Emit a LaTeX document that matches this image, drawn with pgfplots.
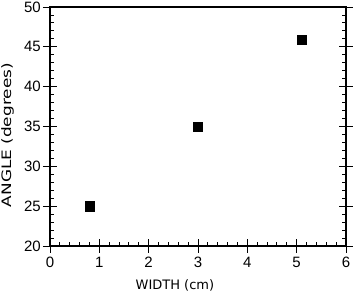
\documentclass[border=0pt]{standalone}
\usepackage{fontspec}
\setmainfont{Liberation Sans}
\newfontfamily\labfont{DejaVu Sans}
\usepackage{graphicx}
\usepackage{pgfplots}
\pgfplotsset{compat=1.18}
\begin{document}
\begin{tikzpicture}
\begin{axis}[name=ax, scale only axis, width=296pt, height=239pt,
  xmin=0, xmax=6, ymin=20, ymax=50,
  xtick={0,1,2,3,4,5,6}, ytick={20,25,30,35,40,45,50},
  minor x tick num=4, minor y tick num=4,
  xtick pos=bottom, ytick pos=both,
  tick align=inside, major tick length=7pt, minor tick length=4pt,
  extra x ticks={0,1,2,3,4,5,6}, extra y ticks={20,25,30,35,40,45,50},
  extra x tick labels={}, extra y tick labels={},
  extra tick style={tick align=center, major tick length=14pt},
  axis line style={line width=1.6pt},
  every tick/.style={black, line width=0.9pt},
  /pgf/number format/assume math mode=true,
  ticklabel style={font=\fontsize{15}{17}\selectfont},
  xticklabel style={yshift=-7.3pt},
  yticklabel style={xshift=-5.7pt},
  label style={font=\labfont\fontsize{13}{15}\selectfont},
  xlabel={WIDTH (cm)}, ylabel={\scalebox{1.3}[1]{ANGLE (degrees)}},
  xlabel style={at={(axis description cs:0.422,-0.184)}, anchor=base},
  ylabel style={at={(axis description cs:-0.1436,0.464)}, anchor=center},
]
\addplot[only marks, mark=square*, mark size=4.6pt, black] coordinates {
(0.81,25) (3.0,35) (5.1,45.9)
};
\end{axis}
\pgfresetboundingbox
\path ([shift={(-50pt,-48pt)}]ax.south west) rectangle ([shift={(11pt,7pt)}]ax.north east);
\end{tikzpicture}
\end{document}
